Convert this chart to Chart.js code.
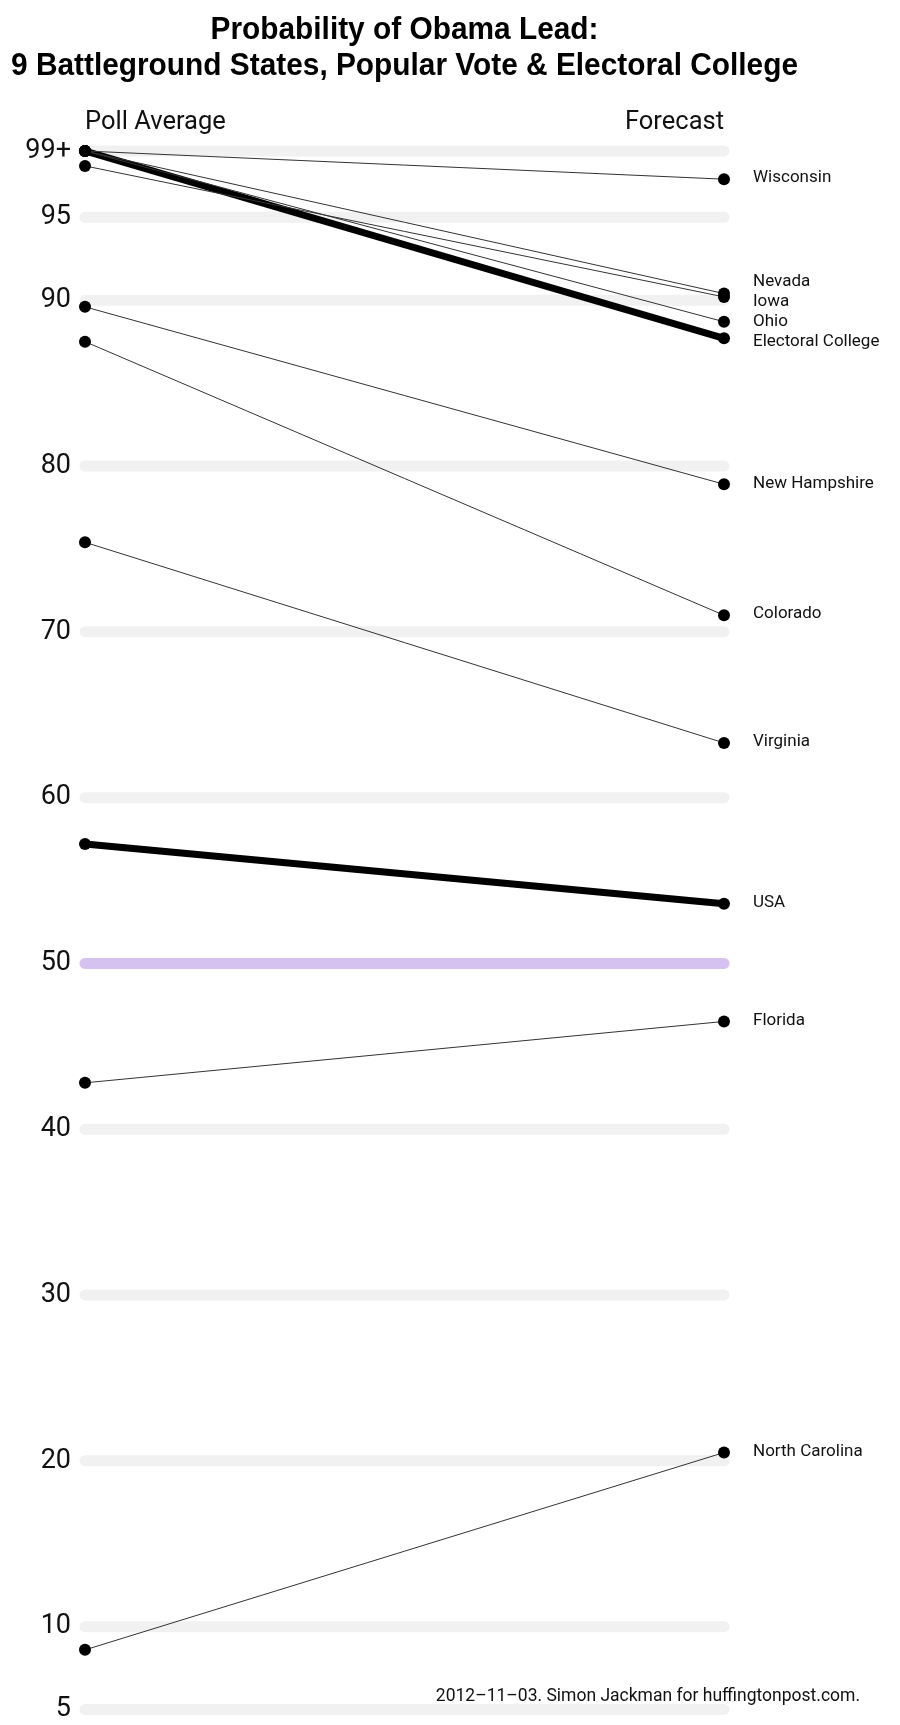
<!DOCTYPE html>
<html>
<head>
<meta charset="utf-8">
<script src="https://cdn.jsdelivr.net/npm/chart.js@4"></script>
<style>
  body { margin: 0; background: #fff; }
  canvas { display: block; }
</style>
</head>
<body>
<canvas id="slopeChart" width="900" height="1725"></canvas>
<script>
// columns
const stages = ["Poll Average", "Forecast"];

// battleground states
const states = ["Wisconsin", "Nevada", "Iowa", "Ohio", "New Hampshire", "Colorado", "Virginia", "Florida", "North Carolina"];
const statePoll = [99, 99, 98.1, 99, 89.6, 87.5, 75.4, 42.8, 8.6];
const stateForecast = [97.3, 90.4, 90.2, 88.7, 78.9, 71.0, 63.3, 46.5, 20.5];

// popular vote & electoral college (thick lines)
const totals = ["USA", "Electoral College"];
const totalPoll = [57.2, 99];
const totalForecast = [53.6, 87.7];

const yTicks = [99, 95, 90, 80, 70, 60, 50, 40, 30, 20, 10, 5];
const titleLines = ["Probability of Obama Lead:", "9 Battleground States, Popular Vote & Electoral College"];
const footer = "2012\u201311\u201303. Simon Jackman for huffingtonpost.com.";

const FONT = "Roboto, 'Liberation Sans', sans-serif";

const datasets = [];
states.forEach((s, i) => {
  datasets.push({ label: s, data: [statePoll[i], stateForecast[i]], borderWidth: 1, borderColor: "#333" });
});
totals.forEach((s, i) => {
  datasets.push({ label: s, data: [totalPoll[i], totalForecast[i]], borderWidth: 7, borderColor: "#000" });
});
datasets.forEach(d => {
  d.pointRadius = 6;
  d.pointBackgroundColor = "#000";
  d.pointBorderColor = "#000";
  d.pointBorderWidth = 0;
  d.clip = false;
  d.tension = 0;
});

// thick rounded gridlines, drawn from the y scale
const bands = {
  id: "bands",
  beforeDatasetsDraw(chart) {
    const { ctx, chartArea, scales } = chart;
    ctx.save();
    ctx.lineCap = "round";
    ctx.lineWidth = 11;
    yTicks.forEach(v => {
      const y = scales.y.getPixelForValue(v);
      ctx.strokeStyle = v === 50 ? "#d6c2f0" : "#f1f1f1";
      ctx.beginPath();
      ctx.moveTo(chartArea.left, y);
      ctx.lineTo(chartArea.right, y);
      ctx.stroke();
    });
    ctx.restore();
  }
};

// title (condensed by horizontal squeeze), right-hand labels and footer
const annotations = {
  id: "annotations",
  afterDatasetsDraw(chart) {
    const { ctx, chartArea } = chart;

    // end labels, spread apart where they collide
    const gap = 20;
    let items = chart.data.datasets.map((d, i) => {
      const pt = chart.getDatasetMeta(i).data[1];
      return { text: d.label, y: pt.y, pos: pt.y };
    }).sort((a, b) => a.y - b.y);

    let groups = items.map(it => [it]);
    let moved = true;
    while (moved) {
      moved = false;
      for (let g = 0; g < groups.length - 1; g++) {
        const a = groups[g], b = groups[g + 1];
        if (b[0].pos - a[a.length - 1].pos < gap) {
          const merged = a.concat(b);
          const mean = merged.reduce((s, it) => s + it.y, 0) / merged.length;
          const start = mean - (merged.length - 1) * gap / 2;
          merged.forEach((it, k) => { it.pos = start + k * gap; });
          groups.splice(g, 2, merged);
          moved = true;
          break;
        }
      }
    }

    ctx.save();
    ctx.font = "17px " + FONT;
    ctx.fillStyle = "#111";
    ctx.textAlign = "left";
    ctx.textBaseline = "middle";
    items.forEach(it => ctx.fillText(it.text, chartArea.right + 29, it.pos - 1));

    ctx.font = "17.5px " + FONT;
    ctx.textAlign = "right";
    ctx.fillText(footer, 860, 1697);

    // title
    const cx = (chartArea.left + chartArea.right) / 2;
    ctx.font = "bold 32px 'Liberation Sans', Arial, sans-serif";
    ctx.fillStyle = "#000";
    ctx.textAlign = "center";
    ctx.textBaseline = "alphabetic";
    const sx = 787 / ctx.measureText(titleLines[1]).width;
    ctx.translate(cx, 0);
    ctx.scale(sx, 1);
    ctx.fillText(titleLines[0], 0, 39);
    ctx.fillText(titleLines[1], 0, 75);
    ctx.restore();
  }
};

new Chart(document.getElementById("slopeChart"), {
  type: "line",
  data: { labels: stages, datasets: datasets },
  plugins: [bands, annotations],
  options: {
    responsive: false,
    animation: false,
    layout: { padding: { left: 0, right: 176, top: 81, bottom: 0 } },
    plugins: {
      legend: { display: false },
      tooltip: { enabled: false },
      title: { display: false }
    },
    scales: {
      x: {
        type: "category",
        position: "top",
        offset: false,
        grid: { display: false },
        border: { display: false },
        ticks: {
          align: "inner",
          maxRotation: 0,
          padding: 5,
          color: "#111",
          font: { family: FONT, size: 25.5 }
        },
        afterFit(scale) { scale.height = 70; }
      },
      y: {
        min: 5,
        max: 99,
        grid: { display: false },
        border: { display: false },
        afterBuildTicks(scale) { scale.ticks = yTicks.map(v => ({ value: v })); },
        afterFit(scale) { scale.width = 85; },
        ticks: {
          padding: 6,
          color: "#111",
          font: { family: FONT, size: 27, lineHeight: 0.7 },
          callback: v => (v === 99 ? "99+" : String(v))
        }
      }
    }
  }
});
</script>
</body>
</html>
